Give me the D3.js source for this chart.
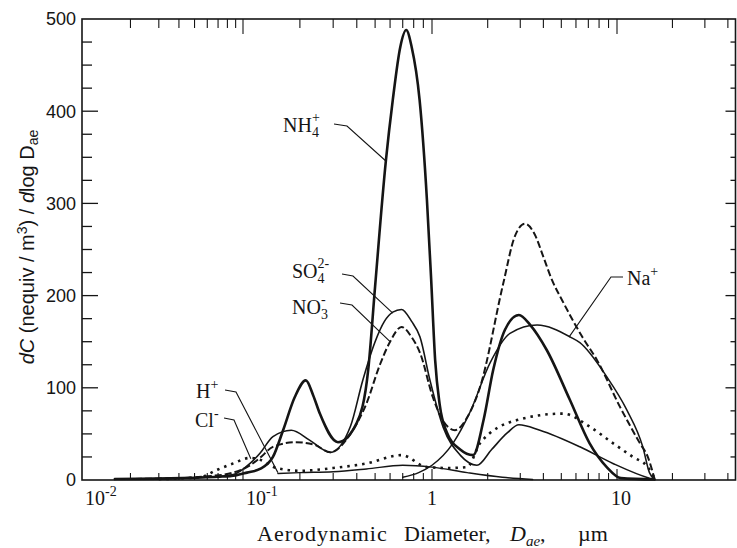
<!DOCTYPE html>
<html><head><meta charset="utf-8">
<script src="https://cdn.jsdelivr.net/npm/d3@7/dist/d3.min.js"></script>
<style>
html,body{margin:0;padding:0;background:#fff;}
svg{display:block;}
</style></head>
<body>
<svg id="chart" width="737" height="548"></svg>
<script>
// ---- data: [aerodynamic diameter (µm), dC/dlogDae (nequiv/m3)] ----
const NH4 = [[0.016,1],[0.03,1.5],[0.05,2.5],[0.07,3.5],[0.09,5],[0.105,8],[0.123,12],[0.144,25],[0.163,54],[0.188,90],[0.215,108],[0.235,92],[0.255,72],[0.318,41],[0.40,62],[0.46,120],[0.50,210],[0.57,346],[0.62,412],[0.68,470],[0.73,488],[0.78,470],[0.86,412],[0.94,304],[0.99,217],[1.04,130],[1.1,82],[1.2,52],[1.42,33],[1.67,27],[1.9,65],[2.14,119],[2.48,163],[2.95,179],[3.4,168],[4.17,141],[5.56,87],[7.1,40],[8.8,14],[10.5,2],[16,0.5]];
const SO4 = [[0.016,1],[0.04,2],[0.06,3],[0.087,6],[0.109,18],[0.123,29],[0.144,47],[0.18,54],[0.226,43],[0.29,30],[0.37,58],[0.43,108],[0.5,150],[0.56,172],[0.62,182],[0.69,185],[0.78,172],[0.864,155],[0.976,108],[1.15,57],[1.42,27],[1.75,16],[2.1,33],[2.55,51],[2.95,60],[3.83,54],[6.3,36],[9.5,18],[15,2],[16,0.5]];
const NO3 = [[0.016,1],[0.04,2],[0.06,4],[0.087,8],[0.109,16],[0.123,24],[0.144,36],[0.19,41],[0.24,38],[0.29,30],[0.37,50],[0.45,83],[0.53,125],[0.6,150],[0.69,166],[0.78,155],[0.864,138],[1.01,90],[1.12,68],[1.33,54],[1.55,68],[1.82,101],[2.42,212],[2.8,264],[3.18,278],[3.6,266],[4.0,242],[4.45,217],[5.05,195],[6.5,155],[7.8,130],[10.4,79],[13.3,40],[14.7,25],[16,1]];
const NA = [[0.7,3],[0.85,8],[1.0,16],[1.3,40],[1.6,73],[2.06,127],[2.64,159],[3.7,168],[5.6,155],[6.3,149],[8.8,112],[11.3,76],[13.8,36],[15,8],[16,0.5]];
const H = [[0.153,7],[0.2,8],[0.3,9],[0.45,12],[0.7,16],[1.0,14],[1.55,8],[2.4,3],[3.5,0.5]];
const CL = [[0.03,1],[0.054,3],[0.069,11],[0.087,18],[0.109,24],[0.123,22],[0.15,13],[0.2,10],[0.3,13],[0.45,18],[0.69,27],[0.94,14],[1.25,13],[1.55,14],[1.82,40],[2.88,65],[5.1,72],[7.1,58],[9.5,40],[12.2,25],[14.7,14],[16,2]];

const seriesNames = ["NH4+","SO4 2-","NO3-","Na+","H+","Cl-"];
const seriesData  = [NH4, SO4, NO3, NA, H, CL];

const xMajorTicks = [0.01, 0.1, 1, 10];
const xTickLabels = [["10","-2"],["10","-1"],["1",""],["10",""]];
const yMajorTicks = [0, 100, 200, 300, 400, 500];
const yTickLabels = ["0","100","200","300","400","500"];
// label leader targets: [diameter, value]
const leaderTargets = [[0.57,346],[0.62,181],[0.6,150],[5.5,155],[0.153,8],[0.11,23]];

// ---- layout ----
const svg = d3.select("#chart");
const L = 82, R = 735.5, T = 19, B = 480;
// scanned figure: the first decade is slightly compressed -> piecewise log scale
const x = d3.scaleLog().domain([0.01, 0.1, 1, 10, 44]).range([L, 243, 432, 617, R]);
const y = d3.scaleLinear().domain([0, 500]).range([B, T]);
const ink = "#151515";

// frame
svg.append("rect").attr("x", L).attr("y", T).attr("width", R - L).attr("height", B - T)
  .attr("fill", "none").attr("stroke", ink).attr("stroke-width", 1.6);

// x ticks (top and bottom, inward)
const xt = x.ticks().filter(v => v >= 0.01 && v <= 44);
xt.forEach(v => {
  const isMaj = xMajorTicks.some(m => Math.abs(Math.log10(v) - Math.log10(m)) < 1e-6);
  const px = x(v);
  if (px <= L + 0.5) return;
  svg.append("line").attr("x1", px).attr("x2", px).attr("y1", T).attr("y2", T + (isMaj ? 15 : 9))
    .attr("stroke", ink).attr("stroke-width", 1.1);
  svg.append("line").attr("x1", px).attr("x2", px).attr("y1", B).attr("y2", B - (isMaj ? 11 : 7))
    .attr("stroke", ink).attr("stroke-width", 1.1);
});
// y ticks (left and right, inward)
d3.range(0, 501, 25).forEach(v => {
  const isMaj = v % 100 === 0;
  const py = y(v);
  if (v === 0 || v === 500) return;
  svg.append("line").attr("x1", L).attr("x2", L + (isMaj ? 16 : 10)).attr("y1", py).attr("y2", py)
    .attr("stroke", ink).attr("stroke-width", 1.3);
  svg.append("line").attr("x1", R).attr("x2", R - (isMaj ? 10 : 5)).attr("y1", py).attr("y2", py)
    .attr("stroke", ink).attr("stroke-width", 1.3);
});

// y tick labels
yMajorTicks.forEach((v, i) => {
  svg.append("text").attr("x", L - 6).attr("y", y(v)).attr("dy", "0.35em")
    .attr("text-anchor", "end").attr("font-family", "Liberation Sans, Arial, sans-serif")
    .attr("font-size", 18).attr("fill", ink).text(yTickLabels[i]);
});
// x tick labels
xMajorTicks.forEach((v, i) => {
  const [base, exp] = xTickLabels[i];
  const t = svg.append("text").attr("y", 505).attr("font-family", "Liberation Serif, Times New Roman, serif")
    .attr("font-size", 20).attr("fill", ink);
  if (exp) {
    t.attr("x", x(v) + 3).attr("text-anchor", "start");
    t.append("tspan").text(base);
    t.append("tspan").attr("font-size", 14).attr("dy", -9).text(exp);
  } else {
    t.attr("x", x(v) + (base.length > 1 ? 4 : 0)).attr("text-anchor", "middle").text(base);
  }
});

// axis titles
const xt1 = svg.append("g").attr("font-family", "Liberation Serif, Times New Roman, serif")
  .attr("font-size", 22).attr("fill", ink);
xt1.append("text").attr("x", 257).attr("y", 541).attr("letter-spacing", 1).text("Aerodynamic");
xt1.append("text").attr("x", 404).attr("y", 541).text("Diameter,");
const dt = xt1.append("text").attr("x", 510).attr("y", 541);
dt.append("tspan").attr("font-style", "italic").text("D");
dt.append("tspan").attr("font-style", "italic").attr("font-size", 15).attr("dy", 5).text("ae");
dt.append("tspan").attr("dy", -5).text(",");
xt1.append("text").attr("x", 578).attr("y", 541).text("µm");

const yt = svg.append("text").attr("transform", "translate(34,247) rotate(-90)")
  .attr("text-anchor", "middle").attr("font-family", "Liberation Sans, Arial, sans-serif")
  .attr("font-size", 20).attr("fill", ink);
yt.append("tspan").attr("font-style", "italic").text("dC");
yt.append("tspan").text(" (nequiv / m");
yt.append("tspan").attr("font-size", 14).attr("dy", -7).text("3");
yt.append("tspan").attr("dy", 7).text(") / ");
yt.append("tspan").attr("font-style", "italic").text("d");
yt.append("tspan").text("log D");
yt.append("tspan").attr("font-size", 14).attr("dy", 4).text("ae");

// curves
const line = d3.line().x(d => x(d[0])).y(d => y(d[1])).curve(d3.curveMonotoneX);
const styles = [
  {w: 2.6, dash: null},        // NH4+
  {w: 1.6, dash: null},        // SO4
  {w: 2.0, dash: "7,3"},       // NO3
  {w: 1.5, dash: null},        // Na+
  {w: 1.4, dash: null},        // H+
  {w: 2.6, dash: "2.5,5"}      // Cl-
];
const plot = svg.append("g");
seriesData.forEach((s, i) => {
  plot.append("path").datum(s).attr("d", line).attr("fill", "none")
    .attr("stroke", ink).attr("stroke-width", styles[i].w)
    .attr("stroke-dasharray", styles[i].dash).attr("stroke-linejoin", "round")
    .attr("stroke-linecap", styles[i].dash ? "butt" : "round")
    .attr("data-name", seriesNames[i]);
});

// labels
const lab = svg.append("g").attr("font-family", "Liberation Serif, Times New Roman, serif")
  .attr("font-size", 20).attr("fill", ink);
function chem(xp, yp, base, sub, sup) {
  const t = lab.append("text").attr("x", xp).attr("y", yp);
  t.append("tspan").text(base);
  if (sub) t.append("tspan").attr("font-size", 14).attr("dy", 5).text(sub);
  if (sup) t.append("tspan").attr("font-size", 14).attr("dx", sub ? -7 : 0).attr("dy", sub ? -15 : -9).text(sup);
}
chem(283, 132, "NH", "4", "+");
chem(292, 278, "SO", "4", "2-");
chem(292, 314, "NO", "3", "-");
chem(627, 285, "Na", "", "+");
chem(196, 398, "H", "", "+");
chem(195, 427, "Cl", "", "-");

const leaders = [
  [[334,124],[347,126]],
  [[342,274],[353,276]],
  [[340,303],[352,305]],
  [[623,277],[611,277]],
  [[225,390],[236,392]],
  [[224,418],[234,420]]
];
leaders.forEach((p, i) => {
  const tgt = [x(leaderTargets[i][0]), y(leaderTargets[i][1])];
  svg.append("path").attr("d", d3.line()([p[0], p[1], tgt])).attr("fill", "none")
    .attr("stroke", ink).attr("stroke-width", 1.1);
});
</script>
</body></html>
